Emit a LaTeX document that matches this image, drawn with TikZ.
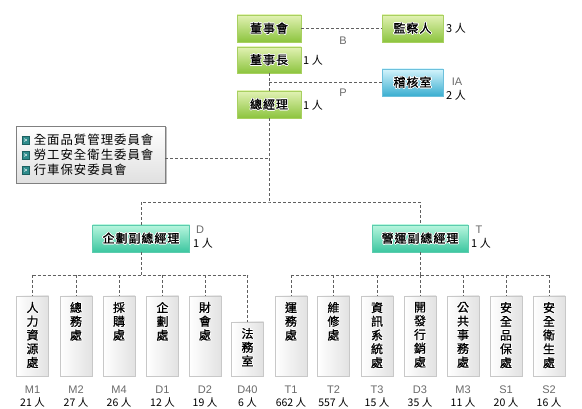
\documentclass[tikz,border=0pt]{standalone}
\usepackage{fontspec}
\setmainfont{Noto Sans CJK TC}
\newfontfamily\cjk{Noto Sans CJK TC}[LetterSpace=8]
\newfontfamily\cjkb{Noto Sans CJK TC}[LetterSpace=8, FakeBold=1.4]
\newfontfamily\cjkv{Noto Sans CJK TC}[FakeBold=1]
\newfontfamily\latin{Liberation Sans}
\usepackage[copies]{contour}
\contourlength{0.7pt}
\usetikzlibrary{shadows}
\definecolor{gTop}{HTML}{E2F2B4}
\definecolor{gBot}{HTML}{8CC43E}
\definecolor{gBrd}{HTML}{A8D060}
\definecolor{bTop}{HTML}{D4F4FC}
\definecolor{bBot}{HTML}{3AAED0}
\definecolor{bBrd}{HTML}{6CC0DC}
\definecolor{mTop}{HTML}{B8F6DE}
\definecolor{mBot}{HTML}{3CC6A0}
\definecolor{mBrd}{HTML}{5CCCAE}
\definecolor{lineC}{HTML}{606060}
\definecolor{codeC}{HTML}{6A6A6A}
\definecolor{bulF}{HTML}{2E8C8C}
\definecolor{bulB}{HTML}{1C6060}
\definecolor{deptB}{HTML}{C8C8C8}
\definecolor{deptR}{HTML}{E2E2E2}
\definecolor{commB}{HTML}{808080}
\definecolor{commBot}{HTML}{E0E0E0}
\newcommand\gl[1]{\contour{white}{#1}}
\def\vsloop#1{\ifx#1\relax\else\gl{#1}\par\expandafter\vsloop\fi}
\newcommand\vs[2]{\begin{minipage}[c][#1][t]{16pt}\centering\cjkv\fontsize{12}{13.75}\selectfont\lineskiplimit=-20pt\relax
\edef\vstmp{#2}\expandafter\vsloop\vstmp\relax\end{minipage}}
\newcommand\bul{\raisebox{0.5pt}{\setlength\fboxsep{0pt}\setlength\fboxrule{0.6pt}\fcolorbox{bulB}{bulF}{\makebox[7pt][c]{\rule{0pt}{7pt}\raisebox{1.2pt}{\color{white}\latin\fontsize{6}{6}\selectfont\bfseries>}}}}}
\begin{document}
\begin{tikzpicture}[x=1pt,y=-1pt,
  conn/.style={draw=lineC, line width=0.8pt, dash pattern=on 3pt off 2pt},
  boxbase/.style={rectangle, inner sep=0pt, line width=0.8pt, font=\cjkb\fontsize{12}{14}\selectfont},
  gbox/.style={boxbase, top color=gTop, bottom color=gBot, draw=gBrd, minimum width=64pt, minimum height=27pt},
  bbox/.style={boxbase, top color=bTop, bottom color=bBot, draw=bBrd, minimum width=61pt, minimum height=27pt},
  mbox/.style={boxbase, top color=mTop, bottom color=mBot, draw=mBrd, minimum width=97pt, minimum height=27pt},
  dept/.style={rectangle, inner sep=0pt, line width=0.8pt, draw=deptB, left color=white, right color=deptR, minimum width=32pt, minimum height=80pt},
  commbox/.style={rectangle, inner sep=0pt, line width=0.8pt, draw=commB, top color=white, bottom color=commBot, minimum width=149pt, minimum height=57pt, text width=138pt, align=left, font=\cjk\fontsize{12.4}{15}\selectfont, drop shadow={shadow xshift=1.5pt, shadow yshift=-1.5pt, fill=black, opacity=0.25}},
  code/.style={inner sep=0pt, text=codeC, font=\latin\fontsize{11}{11}\selectfont},
  lab/.style={inner sep=0pt, text=black, font=\fontsize{11}{11}\selectfont},
  cnt/.style={inner sep=0pt, text=black, font=\fontsize{10.5}{11}\selectfont}]
\useasboundingbox[fill=white] (0,0) rectangle (582,409);
% top
\node[gbox] (bod) at (269,28.5) {\gl{董事會}};
\node[gbox, minimum width=61pt] (sup) at (412.5,28.5) {\gl{監察人}};
\node[gbox, minimum height=26pt] (chair) at (269,60) {\gl{董事長}};
\node[bbox] (audit) at (412.5,82.5) {\gl{稽核室}};
\node[gbox] (gm) at (269,104.5) {\gl{總經理}};
\node[commbox] (comm) at (90.5,154.5) {\bul\ 全面品質管理委員會\\\bul\ 勞工安全衛生委員會\\\bul\ 行車保安委員會};
\node[mbox] (vpd) at (141,238.5) {\gl{企劃副總經理}};
\node[mbox, minimum width=96pt] (vpt) at (420,238.5) {\gl{營運副總經理}};
% side labels
\node[lab, anchor=west] (supn) at (446,28.5) {3 人};
\node[code] (lb) at (343,41) {B};
\node[lab, anchor=west] (chn) at (303,60) {1 人};
\node[code] (lia) at (457,82) {IA};
\node[lab, anchor=west] (auditn) at (446,95.5) {2 人};
\node[code] (lp) at (343,93) {P};
\node[lab, anchor=west] (gmn) at (303,105) {1 人};
\node[code] (ld) at (200,230) {D};
\node[lab, anchor=west] (vpdn) at (193,243) {1 人};
\node[code] (lt) at (479,230) {T};
\node[lab, anchor=west] (vptn) at (471,243) {1 人};
% departments
\foreach \nm/\xx/\txt/\cd/\ct in {m1/32.5/人力資源處/M1/21, m2/76/總務處/M2/27, m4/119/採購處/M4/26, d1/162.5/企劃處/D1/12, d2/205/財會處/D2/19, t1/291/運務處/T1/662, t2/333.5/維修處/T2/557, t3/377/資訊系統處/T3/15, d3/420/開發行銷處/D3/35, m3/463/公共事務處/M3/11, s1/506/安全品保處/S1/20, s2/549/安全衛生處/S2/16}{
  \node[dept] (\nm) at (\xx,336) {\vs{68pt}{\txt}};
  \node[code] (\nm c) at (\xx,390) {\cd};
  \node[cnt] (\nm n) at (\xx,403) {\ct\ 人};
}
\node[dept, minimum height=54pt] (d40) at (247.5,349) {\vs{42pt}{法務室}};
\node[code] (d40c) at (247.5,390) {D40};
\node[cnt] (d40n) at (247.5,403) {6 人};
% connectors
\coordinate (jp) at (269,82.5);
\coordinate (cj) at (269,158);
\coordinate (bus1) at (269,202);
\coordinate (bus2) at (141,275);
\coordinate (bus3) at (420,275);
\draw[conn] (bod) -- (sup);
\draw[conn] (chair) -- (gm);
\draw[conn] (jp) -- (audit);
\draw[conn] (gm) -- (bus1);
\draw[conn] (comm.east |- cj) -- (cj);
\draw[conn] (vpd) |- (bus1) -| (vpt);
\draw[conn] (vpd) -- (bus2);
\draw[conn] (vpt) -- (bus3);
\draw[conn] (m1 |- bus2) -- (d40 |- bus2);
\draw[conn] (t1 |- bus3) -- (s2 |- bus3);
\foreach \n in {m1,m2,m4,d1,d2,d40,t1,t2,t3,d3,m3,s1,s2}{\draw[conn] (\n |- bus2) -- (\n);}
\end{tikzpicture}
\end{document}
